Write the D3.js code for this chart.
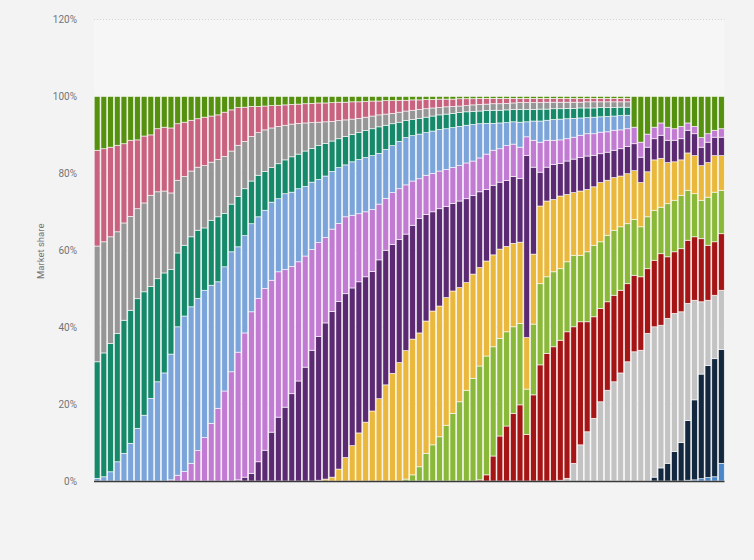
<!DOCTYPE html>
<meta charset="utf-8">
<script src="https://cdn.jsdelivr.net/npm/d3@7/dist/d3.min.js"></script>
<head>
<style>
    body { margin: 0; background: #f3f3f3; }
    svg { display: block; }
</style>
</head>
<body>
<script>

    var svgWidth = 754;
    var svgHeight = 560;

    // monthly share per version, oldest bar first (94 bars), in percent
    var periods = d3.range(94);

    var green = [14.0,13.6,13.2,12.7,12.3,11.4,11.3,10.3,10.0,8.4,
        8.0,8.2,7.1,6.7,6.2,5.8,5.4,5.1,4.8,4.1,
        3.5,2.9,2.8,2.6,2.6,2.5,2.4,2.3,2.2,2.1,
        2.0,1.9,1.8,1.7,1.7,1.6,1.5,1.5,1.4,1.4,
        1.3,1.2,1.2,1.1,1.1,1.0,1.0,0.9,0.9,0.8,
        0.8,0.7,0.7,0.7,0.6,0.6,0.6,0.5,0.5,0.5,
        0.5,0.5,0.5,0.5,0.5,0.5,0.5,0.5,0.5,0.5,
        0.5,0.5,0.5,0.5,0.5,0.5,0.5,0.5,0.5,0.5,
        8.0,11.9,9.8,8.0,6.9,8.0,8.4,7.8,6.9,7.8,
        10.7,9.7,8.8,8.4];

    var pink = [24.9,24.2,23.3,22.5,20.6,19.8,17.9,17.4,15.7,16.4,
        16.6,16.9,14.7,14.1,13.2,12.6,12.6,12.0,11.6,11.5,
        10.7,9.8,8.9,7.8,6.8,6.2,5.8,5.5,5.3,5.1,
        5.0,5.0,5.0,5.0,4.9,4.9,4.8,4.6,4.5,4.3,
        4.1,3.9,3.6,3.5,3.3,3.1,2.8,2.7,2.5,2.4,
        2.2,2.2,2.0,1.9,1.9,1.8,1.6,1.6,1.5,1.4,
        1.4,1.3,1.2,1.1,1.1,1.1,1.1,1.0,1.0,1.0,
        1.0,1.0,1.0,0.9,0.9,0.9,0.9,0.9,0.9,0.9,
        0,0,0,0,0,0,0,0,0,0,
        0,0,0,0];

    var grey = [30.1,28.9,27.7,26.4,25.3,24.4,23.4,23.1,23.7,22.6,
        21.3,19.9,18.9,17.9,17.1,16.4,16.2,15.1,14.9,14.8,
        13.8,13.3,12.3,11.6,11.1,10.8,10.3,9.7,9.0,8.5,
        8.0,7.3,6.7,6.1,5.6,5.1,4.7,4.3,4.0,3.7,
        3.5,3.3,3.1,2.9,2.7,2.6,2.5,2.4,2.3,2.2,
        2.1,1.9,1.9,1.8,1.7,1.6,1.7,1.7,1.7,1.7,
        1.7,1.7,1.7,1.8,1.8,1.8,1.7,1.8,1.7,1.7,
        1.6,1.6,1.5,1.6,1.6,1.5,1.5,1.5,1.4,1.4,
        0,0,0,0,0,0,0,0,0,0,
        0,0,0,0];

    var teal = [30.3,32.2,33.4,33.4,34.6,34.6,33.7,32.1,29.1,26.8,
        26.0,22.0,19.2,18.4,18.2,17.7,16.2,16.9,16.9,13.9,
        12.4,13.1,12.2,11.1,10.8,10.1,9.0,9.1,8.8,9.2,
        9.0,9.2,8.8,8.8,8.5,7.9,7.5,7.4,7.1,7.0,
        7.0,7.0,6.9,6.3,5.7,5.0,4.4,4.2,4.1,4.0,
        3.9,3.8,3.8,3.7,3.6,3.5,3.4,3.3,3.3,3.4,
        3.3,3.3,3.2,3.3,3.2,3.0,3.1,2.9,2.8,2.7,
        2.7,2.6,2.6,2.5,2.4,2.4,2.3,2.2,2.2,2.1,
        0,0,0,0,0,0,0,0,0,0,
        0,0,0,0];

    var blue = [0.7,1.1,2.4,5.0,7.2,9.8,13.7,17.1,21.5,25.8,
        28.1,32.7,38.6,40.4,40.7,39.6,38.3,35.9,32.9,32.3,
        31.2,27.4,25.3,22.9,21.2,20.3,20.3,19.0,19.7,19.3,
        19.0,18.1,17.5,16.4,16.0,15.0,14.5,13.5,13.9,14.1,
        14.1,14.0,13.2,12.7,12.2,12.3,12.3,11.8,11.6,11.1,
        11.0,10.8,10.6,10.4,10.2,9.8,9.5,8.9,8.0,7.0,
        6.7,6.0,5.8,6.5,3.9,5.0,5.5,5.2,5.4,5.4,
        5.2,4.9,4.5,4.2,4.3,4.0,4.0,3.7,3.7,3.5,
        0,0,0,0,0,0,0,0,0,0,
        0,0,0,0];

    var lightPurple = [0,0,0,0,0,0,0,0,0,0,
        0,0.3,1.5,2.5,4.6,7.9,11.3,15.0,18.9,23.4,
        28.4,33.2,37.5,42.0,42.5,42.1,39.5,37.8,35.8,33.1,
        31.0,28.9,26.2,24.4,22.2,21.4,20.3,20.0,18.9,17.7,
        16.9,16.1,14.5,13.5,13.5,13.2,12.8,11.5,10.3,10.2,
        10.0,9.8,9.6,9.3,9.2,9.3,9.0,8.8,9.2,9.1,
        8.7,9.1,8.4,8.1,4.9,7.0,7.8,7.0,6.3,6.1,
        5.8,5.7,5.8,5.8,5.6,5.6,5.3,5.2,4.9,4.6,
        4.3,3.9,3.4,3.0,3.2,3.4,3.0,3.2,1.9,1.9,
        2.5,2.2,1.8,2.2];

    var darkPurple = [0,0,0,0,0,0,0,0,0,0,
        0,0,0,0,0,0,0,0,0,0,
        0,0.3,1.0,2.0,5.0,8.0,12.7,16.6,19.2,22.7,
        26.0,29.6,34.0,37.4,40.6,43.1,43.6,42.6,41.0,39.3,
        37.8,36.3,36.1,35.0,33.5,32.0,30.3,29.6,29.8,27.7,
        25.8,25.3,23.7,22.8,22.5,21.8,20.4,19.7,18.6,18.1,
        17.4,17.1,17.4,16.6,47.3,22.6,8.8,8.8,9.1,8.5,
        8.7,8.7,8.7,8.7,8.2,7.5,7.3,7.1,7.1,7.1,
        7.0,6.6,6.4,5.5,6.0,5.8,5.6,5.5,5.9,5.7,
        4.8,5.3,4.8,4.8];

    var yellow = [0,0,0,0,0,0,0,0,0,0,
        0,0,0,0,0,0,0,0,0,0,
        0,0,0,0,0,0,0,0,0,0,
        0,0,0,0.2,0.5,1.0,3.1,6.1,9.2,12.5,
        15.3,18.2,21.4,25.0,28.0,30.8,33.4,35.3,34.8,34.4,
        34.8,34.0,33.2,31.8,29.7,28.0,27.1,25.6,24.7,23.9,
        23.2,22.2,21.7,21.1,13.4,18.2,20.2,19.7,18.8,18.9,
        17.5,16.3,16.7,16.2,15.2,15.4,14.3,13.7,13.2,13.0,
        12.7,11.5,11.7,13.1,12.7,10.7,10.0,9.2,9.7,9.9,
        9.0,9.0,9.5,9.0];

    var lightGreen = [0,0,0,0,0,0,0,0,0,0,
        0,0,0,0,0,0,0,0,0,0,
        0,0,0,0,0,0,0,0,0,0,
        0,0,0,0,0,0,0,0,0,0,
        0,0,0,0,0,0,0.5,1.6,3.7,7.2,
        9.4,11.5,14.5,17.6,20.6,23.6,26.7,29.6,30.9,28.4,
        25.4,24.5,22.5,21.2,11.8,18.4,21.1,19.9,19.5,18.6,
        18.2,18.6,17.3,18.2,18.6,17.3,17.3,16.9,16.5,15.6,
        14.5,13.0,13.5,13.0,12.1,13.8,13.4,13.9,13.0,11.2,
        10.0,12.5,12.9,11.3];

    var red = [0,0,0,0,0,0,0,0,0,0,
        0,0,0,0,0,0,0,0,0,0,
        0,0,0,0,0,0,0,0,0,0,
        0,0,0,0,0,0,0,0,0,0,
        0,0,0,0,0,0,0,0,0,0,
        0,0,0,0,0,0,0,0.3,1.6,6.5,
        11.7,14.3,17.6,19.8,12.1,22.4,30.2,33.2,34.9,36.4,
        38.1,35.5,32.0,28.6,26.4,24.3,23.0,22.5,21.5,20.3,
        19.9,19.1,16.8,17.3,18.6,16.0,16.0,16.4,16.4,16.5,
        16.4,14.3,13.9,14.7];

    var lightGrey = [0,0,0,0,0,0,0,0,0,0,
        0,0,0,0,0,0,0,0,0,0,
        0,0,0,0,0,0,0,0,0,0,
        0,0,0,0,0,0,0,0,0,0,
        0,0,0,0,0,0,0,0,0,0,
        0,0,0,0,0,0,0,0,0,0,
        0,0,0,0,0,0,0,0,0,0.2,
        0.7,4.6,9.4,12.8,16.3,20.6,23.6,25.8,28.1,31.0,
        33.6,34.0,38.4,39.1,37.1,37.7,35.9,34.0,30.5,25.9,
        18.8,17.0,16.5,15.4];

    var navy = [0,0,0,0,0,0,0,0,0,0,
        0,0,0,0,0,0,0,0,0,0,
        0,0,0,0,0,0,0,0,0,0,
        0,0,0,0,0,0,0,0,0,0,
        0,0,0,0,0,0,0,0,0,0,
        0,0,0,0,0,0,0,0,0,0,
        0,0,0,0,0,0,0,0,0,0,
        0,0,0,0,0,0,0,0,0,0,
        0,0,0,1.0,3.4,4.6,7.7,10.0,15.5,20.8,
        27.2,29.1,30.7,29.6];

    var newest = [0,0,0,0,0,0,0,0,0,0,
        0,0,0,0,0,0,0,0,0,0,
        0,0,0,0,0,0,0,0,0,0,
        0,0,0,0,0,0,0,0,0,0,
        0,0,0,0,0,0,0,0,0,0,
        0,0,0,0,0,0,0,0,0,0,
        0,0,0,0,0,0,0,0,0,0,
        0,0,0,0,0,0,0,0,0,0,
        0,0,0,0,0,0,0,0,0.2,0.3,
        0.6,0.9,1.1,4.6];

    // bottom of the stack first
    var series = [
        {key: "Pie", values: newest, color: "#4a86c8"},
        {key: "Oreo", values: navy, color: "#13283f"},
        {key: "Nougat", values: lightGrey, color: "#c3c3c3"},
        {key: "Marshmallow", values: red, color: "#a61515"},
        {key: "Lollipop", values: lightGreen, color: "#8ab93a"},
        {key: "KitKat", values: yellow, color: "#e9b83c"},
        {key: "Jelly Bean", values: darkPurple, color: "#5c2a72"},
        {key: "Ice Cream Sandwich", values: lightPurple, color: "#c27bd3"},
        {key: "Gingerbread", values: blue, color: "#7ba5da"},
        {key: "Froyo", values: teal, color: "#17896b"},
        {key: "Eclair", values: grey, color: "#969696"},
        {key: "Donut", values: pink, color: "#c8627f"},
        {key: "Cupcake / other", values: green, color: "#55910e"}
    ];

    var keys = series.map(function(s) { return s.key; });
    var colorOf = {};
    series.forEach(function(s) { colorOf[s.key] = s.color; });

    var table = periods.map(function(p, i) {
        var row = {period: p};
        series.forEach(function(s) { row[s.key] = s.values[i]; });
        return row;
    });

    var stacked = d3.stack()
        .keys(keys)
        .offset(d3.stackOffsetExpand)(table);

    var plotLeft = 94;
    var plotRight = 724.5;

    var x = d3.scaleBand()
        .domain(periods)
        .range([plotLeft, plotRight])
        .paddingInner(0.13)
        .paddingOuter(0.03);

    var y = d3.scaleLinear()
        .domain([0, 1.2])
        .range([481, 19.5]);

    var svg = d3.select("body").append("svg")
        .attr("width", svgWidth)
        .attr("height", svgHeight)
        .style("font-family", "Roboto, 'Liberation Sans', sans-serif");

    svg.append("rect")
        .attr("width", svgWidth)
        .attr("height", svgHeight)
        .style("fill", "#f3f3f3");

    // faint plot background
    svg.append("rect")
        .attr("x", plotLeft)
        .attr("y", y(1.2))
        .attr("width", plotRight - plotLeft)
        .attr("height", y(0) - y(1.2))
        .style("fill", "#f6f6f6");

    var ticks = [0, 0.2, 0.4, 0.6, 0.8, 1, 1.2];

    svg.append("g")
        .selectAll("line")
        .data(ticks)
        .enter()
        .append("line")
        .attr("x1", plotLeft)
        .attr("x2", plotRight)
        .attr("y1", function(d) { return y(d); })
        .attr("y2", function(d) { return y(d); })
        .style("stroke", "#d2d2d2")
        .style("stroke-width", 1)
        .style("stroke-dasharray", "1,2");

    var layers = svg.append("g")
        .selectAll("g")
        .data(stacked)
        .enter()
        .append("g")
        .style("fill", function(d) { return colorOf[d.key]; });

    layers.selectAll("rect")
        .data(function(d) { return d.filter(function(s) { return s[1] - s[0] > 0; }); })
        .enter()
        .append("rect")
        .attr("x", function(d) { return x(d.data.period); })
        .attr("y", function(d) { return y(d[1]); })
        .attr("width", x.bandwidth())
        .attr("height", function(d) { return y(d[0]) - y(d[1]); })
        .style("stroke", "#ffffff")
        .style("stroke-width", 0.7)
        .style("stroke-opacity", 0.85);

    var yAxis = d3.axisLeft(y)
        .tickValues(ticks)
        .tickFormat(d3.format(".0%"))
        .tickSize(0)
        .tickPadding(17);

    var yAxisG = svg.append("g")
        .attr("transform", "translate(" + plotLeft + ",0)")
        .call(yAxis);

    yAxisG.select(".domain").remove();
    yAxisG.selectAll("text")
        .style("font-size", "10px")
        .style("fill", "#757575")
        .style("font-family", "Roboto, 'Liberation Sans', sans-serif");

    // baseline
    svg.append("line")
        .attr("x1", plotLeft)
        .attr("x2", plotRight)
        .attr("y1", y(0) + 0.5)
        .attr("y2", y(0) + 0.5)
        .style("stroke", "#3a3a3a")
        .style("stroke-width", 1.5);

    svg.append("text")
        .attr("transform", "translate(44," + ((y(0) + y(1.2)) / 2 + 1) + ") rotate(-90)")
        .attr("text-anchor", "middle")
        .style("font-size", "9.5px")
        .style("fill", "#757575")
        .text("Market share");

</script>
</body>
</html>
